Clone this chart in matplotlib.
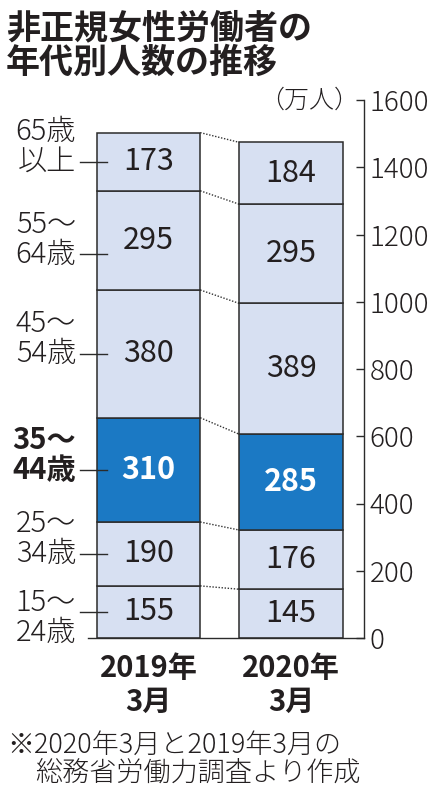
import numpy as np
import matplotlib
matplotlib.use("Agg")
import matplotlib.pyplot as plt

plt.rcParams['font.family'] = ['Noto Sans CJK JP', 'DejaVu Sans']

# --- data -------------------------------------------------------------
TITLE = ["非正規女性労働者の", "年代別人数の推移"]
AGE_LINES = [("15～", "24歳"), ("25～", "34歳"), ("35～", "44歳"),
             ("45～", "54歳"), ("55～", "64歳"), ("65歳", "以上")]
PERIODS = ["2019年\n3月", "2020年\n3月"]
V2019 = [155, 190, 310, 380, 295, 173]
V2020 = [145, 176, 285, 389, 295, 184]
HIGHLIGHT = 2                          # 35～44歳
YTICKS = [0, 200, 400, 600, 800, 1000, 1200, 1400, 1600]
UNIT = "（万人）"
NOTE = ["※2020年3月と2019年3月の", "総務省労働力調査より作成"]

LIGHT = "#d7e0f2"
DARK = "#1b79c4"
EDGE = "#2b2b2b"
TXT = "#231f20"

W, H = 433, 800
fig = plt.figure(figsize=(W / 100, H / 100), dpi=100)
fig.patch.set_facecolor("white")

# axes: baseline y=638px, 1600 at y=100px, x from 88px to spine at 364px
ax = fig.add_axes([88 / W, (H - 638) / H, 276 / W, 538 / H])
ax.set_facecolor("none")
unit_px = 142.5
ax.set_xlim(-60.5 / unit_px, 1 + 73 / unit_px)
ax.set_ylim(0, 1600)
bw = 103.5 / unit_px

series = [V2019, V2020]
bottoms = []
for i, vals in enumerate(series):
    cum = np.concatenate([[0], np.cumsum(vals)])
    bottoms.append(cum)
    colors = [DARK if k == HIGHLIGHT else LIGHT for k in range(len(vals))]
    ax.bar(np.full(len(vals), i), vals, bottom=cum[:-1], width=bw,
           color=colors, edgecolor=EDGE, linewidth=1.1, zorder=2)
    for k, v in enumerate(vals):
        hl = k == HIGHLIGHT
        ax.text(i, cum[k] + v / 2, str(v), ha="center", va="center",
                fontsize=22, fontweight="bold" if hl else "normal",
                color="white" if hl else TXT, zorder=3)

# dotted connectors between segment tops
for k in range(1, len(V2019) + 1):
    ax.plot([bw / 2, 1 - bw / 2], [bottoms[0][k], bottoms[1][k]],
            ls=(0, (1, 1.2)), color="#333333", lw=1.0, zorder=1)

# left age labels with leader lines
leader_shift_px = [0, 0, 0, 0, -14, 0]
line2_off_px = [-21, 0, 0, 0, 0, 0]
x_leader0 = -0.3614 - 17 / unit_px
x_leader1 = -0.3614 + 10 / unit_px
for k, (l1, l2) in enumerate(AGE_LINES):
    yc = bottoms[0][k] + V2019[k] / 2
    yl = yc + leader_shift_px[k] * 1600 / 538
    ax.plot([x_leader0, x_leader1], [yl, yl], color=EDGE, lw=1.0,
            clip_on=False, zorder=4)
    fw = "bold" if k == HIGHLIGHT else "light"
    for txt, off in ((l2, line2_off_px[k]), (l1, line2_off_px[k] + 30)):
        ax.annotate(txt, xy=(x_leader0, yl), xytext=(-4, off),
                    textcoords="offset pixels", ha="right", va="center",
                    fontsize=21, fontweight=fw, color=TXT,
                    annotation_clip=False)

# axes styling
for s in ("left", "top"):
    ax.spines[s].set_visible(False)
ax.spines["right"].set_color(EDGE)
ax.spines["bottom"].set_color(EDGE)
ax.spines["right"].set_linewidth(1.0)
ax.spines["bottom"].set_linewidth(1.0)
ax.yaxis.tick_right()
ax.set_yticks(YTICKS)
ax.set_yticklabels([str(t) for t in YTICKS])
ax.tick_params(axis="y", direction="in", length=6, width=1.0, color=EDGE,
               pad=4, labelsize=20, labelcolor=TXT)
for lab in ax.get_yticklabels():
    lab.set_fontweight("light")

ax.set_xticks([0, 1])
ax.set_xticklabels(PERIODS, fontsize=21, fontweight="bold", color=TXT,
                   linespacing=1.15)
ax.tick_params(axis="x", length=0, pad=11)

ax.annotate(UNIT, xy=(1, 1), xycoords="axes fraction", xytext=(-5, 0),
            textcoords="offset pixels", ha="right", va="center",
            fontsize=18, fontweight="light", color=TXT)

# title and footnote
fig.text(6 / W, 1 - 28 / H, TITLE[0], ha="left", va="center", fontsize=24.5,
         fontweight="bold", color=TXT)
fig.text(6 / W, 1 - 62 / H, TITLE[1], ha="left", va="center", fontsize=24.5,
         fontweight="bold", color=TXT)
fig.text(7 / W, 1 - 745 / H, NOTE[0], ha="left", va="center", fontsize=19.5,
         fontweight="light", color=TXT)
fig.text(35 / W, 1 - 773 / H, NOTE[1], ha="left", va="center", fontsize=19.5,
         fontweight="light", color=TXT)

fig.savefig("out.png", dpi=100, facecolor="white")
